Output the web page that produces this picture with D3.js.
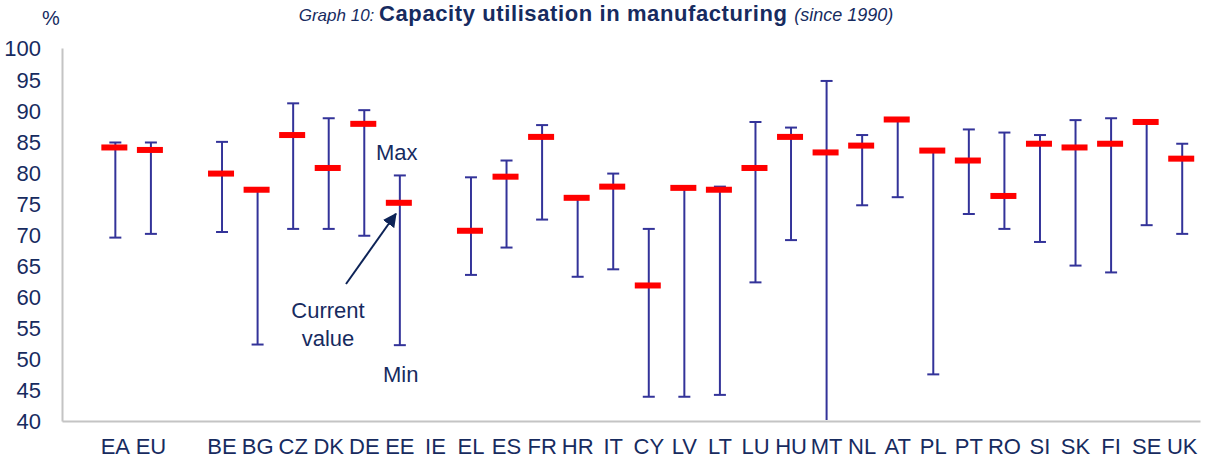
<!DOCTYPE html>
<html>
<head>
<meta charset="utf-8">
<script src="https://cdn.jsdelivr.net/npm/d3@7"></script>
<style>
  body { margin: 0; background: #fff; }
  svg text { font-family: "Liberation Sans Narrow", "Arial Narrow", "Liberation Sans", sans-serif; fill: #172b5f; }
</style>
</head>
<body>
<svg id="chart" width="1211" height="461"></svg>
<script>
// country slots (empty strings are gaps in the chart)
const countries = ["", "EA", "EU", "", "BE", "BG", "CZ", "DK", "DE", "EE", "IE", "EL", "ES", "FR", "HR",
    "IT", "CY", "LV", "LT", "LU", "HU", "MT", "NL", "AT", "PL", "PT", "RO", "SI", "SK", "FI", "SE", "UK"];
// current value, max and min since 1990 (%)
const current = [null, 84.0, 83.6, null, 79.8, 77.2, 86.0, 80.7, 87.8, 75.1, null, 70.6, 79.3, 85.7, 75.9,
    77.7, 61.8, 77.5, 77.2, 80.7, 85.7, 83.2, 84.3, 88.5, 83.5, 81.9, 76.2, 84.6, 84.0, 84.6, 88.1, 82.2];
const maxVal = [null, 84.8, 84.8, null, 84.9, 77.2, 91.1, 88.7, 90.0, 79.5, null, 79.2, 81.9, 87.6, 75.9,
    79.8, 70.9, 77.5, 77.7, 88.1, 87.2, 94.7, 86.0, 88.5, 83.5, 86.9, 86.4, 86.0, 88.4, 88.7, 88.1, 84.6];
const minVal = [null, 69.5, 70.1, null, 70.4, 52.3, 70.9, 70.9, 69.8, 52.2, null, 63.5, 67.9, 72.4, 63.2,
    64.4, 43.9, 43.9, 44.2, 62.3, 69.1, 40.0, 74.7, 76.0, 47.5, 73.3, 70.9, 68.8, 65.0, 63.9, 71.5, 70.1];
const yTicks = [40, 45, 50, 55, 60, 65, 70, 75, 80, 85, 90, 95, 100];

const svg = d3.select("#chart");
const margin = {left: 62, right: 11, top: 48, bottom: 40};
const W = 1211, H = 461;

const keys = countries.map((c, i) => c || "_" + i);
const x = d3.scaleBand().domain(keys).range([margin.left, W - margin.right]).padding(0);
const y = d3.scaleLinear().domain([40, 100]).range([H - margin.bottom, margin.top]);

const data = keys.map((k, i) => ({key: k, label: countries[i], cur: current[i], max: maxVal[i], min: minVal[i]}))
    .filter(d => d.cur !== null);

// title
const title = svg.append("text")
    .attr("x", 596).attr("y", 21)
    .attr("text-anchor", "middle");
title.append("tspan").attr("font-style", "italic").attr("font-size", 17).text("Graph 10: ");
title.append("tspan").attr("font-weight", "bold").attr("font-size", 22).attr("letter-spacing", 0.6)
    .text("Capacity utilisation in manufacturing ");
title.append("tspan").attr("font-style", "italic").attr("font-size", 18).text("(since 1990)");

svg.append("text").attr("x", 51).attr("y", 25).attr("text-anchor", "middle")
    .attr("font-size", 20).text("%");

// axes
const yAxis = svg.append("g")
    .attr("transform", `translate(${margin.left},0)`)
    .call(d3.axisLeft(y).tickValues(yTicks).tickSize(0).tickPadding(21));
yAxis.selectAll("text").attr("font-size", 22).attr("dy", "0.36em");

const xAxis = svg.append("g")
    .attr("transform", `translate(0,${H - margin.bottom})`)
    .call(d3.axisBottom(x).tickSize(0).tickSizeOuter(0).tickPadding(17)
        .tickFormat(k => k.startsWith("_") ? "" : k));
xAxis.selectAll("text").attr("font-size", 22).attr("dy", "0.71em");

svg.selectAll(".domain").attr("stroke", "#c4c4c4").attr("stroke-width", 2);

// clip the ranges to the plot area
svg.append("clipPath").attr("id", "plot")
    .append("rect").attr("x", margin.left).attr("y", 0)
    .attr("width", W - margin.left).attr("height", H - margin.bottom - 1);

const plot = svg.append("g").attr("clip-path", "url(#plot)");
const cx = d => x(d.key) + x.bandwidth() / 2;
const capW = 6;

const g = plot.selectAll("g.item").data(data).join("g").attr("class", "item");
g.append("line")
    .attr("x1", cx).attr("x2", cx)
    .attr("y1", d => y(d.max)).attr("y2", d => y(d.min))
    .attr("stroke", "#333399").attr("stroke-width", 2);
g.append("line")
    .attr("x1", d => cx(d) - capW).attr("x2", d => cx(d) + capW)
    .attr("y1", d => y(d.max)).attr("y2", d => y(d.max))
    .attr("stroke", "#333399").attr("stroke-width", 2);
g.append("line")
    .attr("x1", d => cx(d) - capW).attr("x2", d => cx(d) + capW)
    .attr("y1", d => y(d.min)).attr("y2", d => y(d.min))
    .attr("stroke", "#333399").attr("stroke-width", 2);
g.append("rect")
    .attr("x", d => cx(d) - 14).attr("y", d => y(d.cur) - 3)
    .attr("width", 26).attr("height", 6)
    .attr("fill", "#ff0000");

// annotations around EE
const ee = data.find(d => d.label === "EE");
svg.append("text").attr("x", 376).attr("y", 160).attr("font-size", 22).text("Max");
svg.append("text").attr("x", 383).attr("y", 382).attr("font-size", 22).text("Min");
svg.append("text").attr("x", 328).attr("y", 318).attr("text-anchor", "middle").attr("font-size", 22).text("Current");
svg.append("text").attr("x", 328).attr("y", 346).attr("text-anchor", "middle").attr("font-size", 22).text("value");

svg.append("defs").append("marker")
    .attr("id", "arrow").attr("viewBox", "0 0 10 10")
    .attr("refX", 9).attr("refY", 5)
    .attr("markerWidth", 7).attr("markerHeight", 7)
    .attr("markerUnits", "strokeWidth")
    .attr("orient", "auto")
    .append("path").attr("d", "M0,0L10,5L0,10z").attr("fill", "#0d2357");

svg.append("line")
    .attr("x1", 346).attr("y1", 284)
    .attr("x2", cx(ee) - 4).attr("y2", y(ee.cur) + 11)
    .attr("stroke", "#0d2357").attr("stroke-width", 2)
    .attr("marker-end", "url(#arrow)");
</script>
</body>
</html>
